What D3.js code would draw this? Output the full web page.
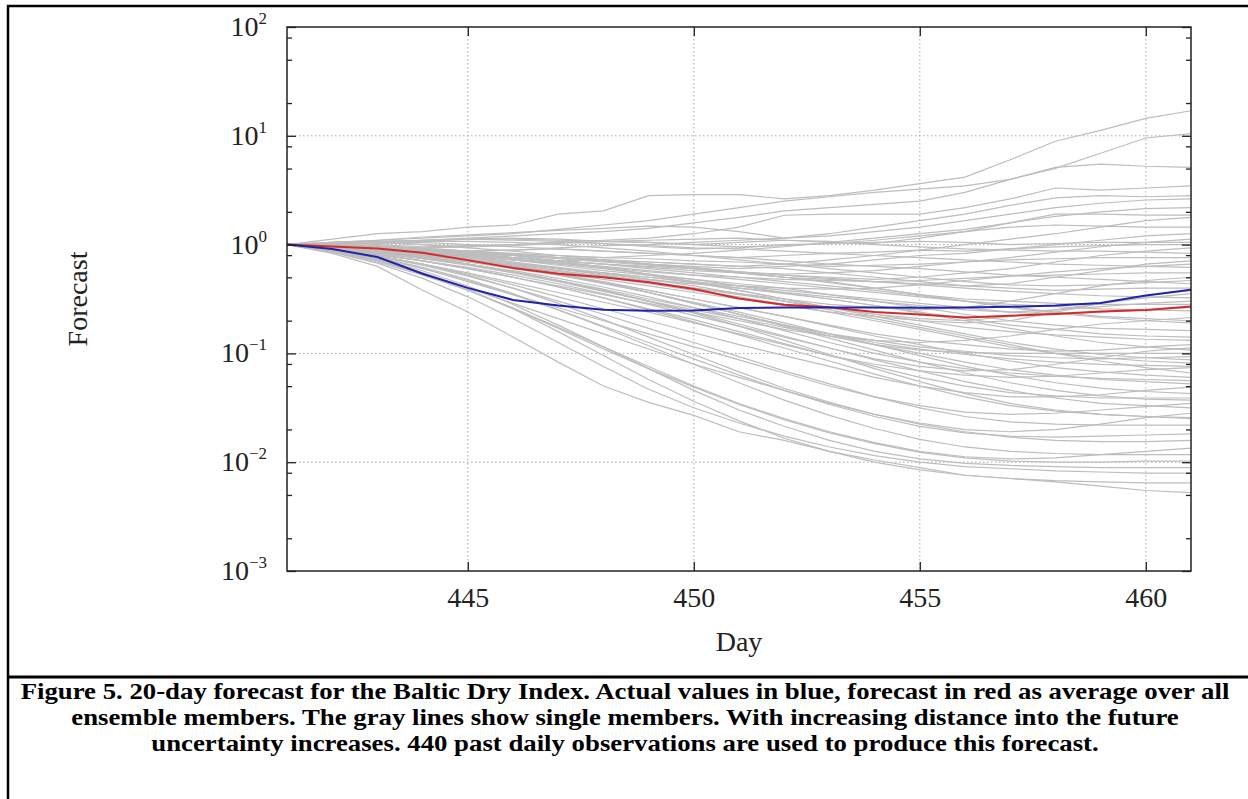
<!DOCTYPE html>
<html>
<head>
<meta charset="utf-8">
<script src="https://cdn.jsdelivr.net/npm/d3@7"></script>
<style>
  body { margin: 0; background: #fff; }
  svg text { font-family: "Liberation Serif", "Times New Roman", serif; }
</style>
</head>
<body>
<div id="chart"></div>
<script>
//////////////////////////// data ////////////////////////////

// forecast days on the x axis
var days = [441, 442, 443, 444, 445, 446, 447, 448, 449, 450,
            451, 452, 453, 454, 455, 456, 457, 458, 459, 460, 461];

// actual index (blue), normalised to day 441
var actual = [1.0, 0.91, 0.77, 0.54, 0.40, 0.31, 0.275, 0.252, 0.247, 0.248,
              0.262, 0.264, 0.264, 0.264, 0.263, 0.264, 0.268, 0.275, 0.29, 0.34, 0.385];

// ensemble average (red)
var average = [1.0, 0.96, 0.92, 0.84, 0.72, 0.61, 0.54, 0.50, 0.45, 0.39,
               0.32, 0.28, 0.265, 0.24, 0.228, 0.214, 0.222, 0.23, 0.243, 0.25, 0.27];

// single ensemble members (gray), read as decade exponents off the log axis
var memberExponents = [
  [0, .05, .10, .12, .16, .18, .28, .31, .45, .46, .46, .42, .45, .50, .56, .62, .78, .95, 1.05, 1.16, 1.23],
  [0, .02, .04, .06, .08, .10, .14, .18, .22, .28, .34, .40, .44, .48, .51, .54, .60, .70, .84, .98, 1.02],
  [0, .01, .02, .04, .06, .08, .10, .12, .15, .20, .25, .31, .34, .37, .40, .48, .60, .71, .74, .72, .71],
  [0, .02, .00, -.02, -.01, .00, .02, .04, .06, .10, .16, .27, .28, .28, .28, .34, .42, .52, .50, .52, .54],
  [0, .01, -.02, -.04, -.06, -.05, -.03, -.01, .00, .02, .04, .06, .10, .16, .22, .28, .36, .43, .45, .44, .45],
  [0, .02, .04, .07, .09, .11, .13, .15, .17, .16, .12, .06, .08, .12, .16, .22, .28, .34, .38, .41, .42],
  [0, -.01, -.03, -.05, -.07, -.09, -.10, -.12, -.10, -.08, -.05, -.02, .02, .06, .10, .14, .20, .26, .30, .33, .34],
  [0, .01, .02, .03, .05, .06, .05, .03, .04, .05, .06, .04, .02, .01, .06, .12, .20, .28, .28, .27, .27],
  [0, -.02, -.04, -.06, -.08, -.10, -.12, -.14, -.16, -.18, -.20, -.18, -.14, -.10, -.05, .00, .05, .10, .16, .22, .25],
  [0, .01, .02, .00, -.02, -.01, .01, .03, .02, .00, -.02, -.01, .01, .04, .08, .12, .16, .18, .17, .16, .16],
  [0, .00, -.02, -.05, -.08, -.12, -.15, -.14, -.18, -.20, -.22, -.20, -.18, -.14, -.10, -.08, -.04, .00, .04, .08, .10],
  [0, .02, .03, .04, .05, .04, .03, .01, -.02, -.04, -.03, .00, .01, .02, .03, .02, .00, .01, .02, .02, .02],
  [0, -.01, -.02, -.03, -.02, .00, .02, .01, -.01, -.03, -.04, -.06, -.08, -.07, -.05, -.06, -.04, -.02, -.01, .00, .00],
  [0, -.02, -.05, -.08, -.10, -.12, -.15, -.18, -.20, -.22, -.25, -.28, -.30, -.32, -.30, -.26, -.22, -.16, -.10, -.06, -.03],
  [0, .01, .03, .04, .05, .05, .04, .03, .02, .00, .02, .04, .03, .00, -.02, -.04, -.05, -.06, -.06, -.07, -.08],
  [0, -.02, -.04, -.06, -.08, -.10, -.12, -.14, -.16, -.18, -.20, -.22, -.26, -.30, -.34, -.38, -.36, -.30, -.24, -.18, -.15],
  [0, -.01, -.02, -.04, -.06, -.05, -.04, -.06, -.08, -.10, -.12, -.10, -.08, -.10, -.12, -.14, -.16, -.18, -.19, -.20, -.21],
  [0, -.03, -.07, -.12, -.16, -.20, -.25, -.30, -.35, -.40, -.45, -.50, -.55, -.58, -.60, -.58, -.52, -.45, -.38, -.33, -.30],
  [0, .00, .01, .02, .00, -.02, -.04, -.06, -.08, -.10, -.12, -.15, -.18, -.20, -.22, -.25, -.28, -.30, -.32, -.34, -.36],
  [0, -.02, -.03, -.05, -.07, -.09, -.12, -.15, -.18, -.22, -.26, -.30, -.32, -.34, -.36, -.38, -.40, -.42, -.41, -.40, -.40],
  [0, -.03, -.06, -.10, -.15, -.20, -.26, -.32, -.38, -.44, -.50, -.56, -.62, -.66, -.70, -.72, -.70, -.62, -.54, -.47, -.42],
  [0, -.01, -.03, -.05, -.08, -.10, -.13, -.16, -.19, -.22, -.25, -.28, -.31, -.34, -.37, -.40, -.43, -.45, -.47, -.48, -.49],
  [0, .01, .02, .00, -.03, -.06, -.10, -.14, -.18, -.22, -.26, -.30, -.34, -.40, -.46, -.50, -.52, -.54, -.55, -.55, -.55],
  [0, -.02, -.05, -.08, -.11, -.14, -.17, -.20, -.24, -.28, -.32, -.36, -.40, -.44, -.48, -.52, -.55, -.57, -.59, -.60, -.61],
  [0, -.04, -.09, -.15, -.22, -.30, -.38, -.46, -.54, -.62, -.70, -.78, -.84, -.88, -.90, -.88, -.84, -.78, -.73, -.70, -.67],
  [0, -.01, -.02, -.04, -.06, -.09, -.12, -.15, -.18, -.21, -.25, -.30, -.35, -.40, -.46, -.52, -.58, -.63, -.67, -.70, -.72],
  [0, -.02, -.04, -.07, -.10, -.14, -.19, -.24, -.28, -.32, -.36, -.40, -.46, -.52, -.58, -.64, -.70, -.74, -.77, -.78, -.79],
  [0, -.03, -.06, -.09, -.13, -.18, -.22, -.26, -.30, -.35, -.40, -.45, -.50, -.56, -.62, -.68, -.74, -.78, -.82, -.84, -.85],
  [0, -.02, -.05, -.09, -.14, -.20, -.27, -.34, -.42, -.50, -.58, -.66, -.74, -.82, -.88, -.92, -.96, -.98, -.97, -.94, -.92],
  [0, -.01, -.03, -.06, -.10, -.14, -.18, -.22, -.27, -.32, -.38, -.44, -.50, -.56, -.63, -.70, -.77, -.84, -.90, -.94, -.97],
  [0, -.02, -.05, -.09, -.14, -.20, -.27, -.35, -.44, -.54, -.64, -.74, -.84, -.92, -.97, -.99, -1.0, -1.0, -1.0, -1.0, -1.0],
  [0, -.03, -.07, -.12, -.18, -.25, -.33, -.41, -.50, -.58, -.66, -.74, -.82, -.88, -.94, -.98, -1.02, -1.04, -1.05, -1.04, -1.03],
  [0, -.02, -.04, -.06, -.09, -.12, -.16, -.21, -.27, -.34, -.42, -.50, -.58, -.66, -.74, -.82, -.90, -.96, -1.01, -1.04, -1.06],
  [0, -.03, -.06, -.10, -.14, -.19, -.24, -.30, -.36, -.42, -.48, -.55, -.62, -.70, -.78, -.86, -.94, -1.00, -1.04, -1.07, -1.09],
  [0, -.04, -.10, -.18, -.26, -.35, -.44, -.53, -.62, -.72, -.82, -.92, -1.02, -1.10, -1.16, -1.20, -1.22, -1.21, -1.18, -1.15, -1.13],
  [0, -.02, -.05, -.08, -.12, -.16, -.21, -.26, -.32, -.38, -.45, -.52, -.60, -.68, -.76, -.84, -.92, -1.00, -1.07, -1.13, -1.18],
  [0, -.03, -.07, -.11, -.16, -.22, -.28, -.35, -.42, -.50, -.58, -.66, -.75, -.84, -.92, -1.00, -1.07, -1.13, -1.17, -1.20, -1.22],
  [0, -.04, -.08, -.13, -.19, -.26, -.34, -.43, -.52, -.60, -.68, -.76, -.84, -.92, -1.00, -1.08, -1.15, -1.20, -1.24, -1.26, -1.28],
  [0, -.05, -.11, -.18, -.27, -.37, -.48, -.59, -.70, -.81, -.92, -1.02, -1.12, -1.22, -1.30, -1.36, -1.40, -1.40, -1.38, -1.34, -1.31],
  [0, -.03, -.06, -.10, -.15, -.21, -.28, -.36, -.44, -.53, -.62, -.72, -.82, -.92, -1.02, -1.12, -1.20, -1.27, -1.32, -1.35, -1.37],
  [0, -.04, -.09, -.15, -.22, -.30, -.39, -.49, -.59, -.69, -.80, -.91, -1.02, -1.12, -1.22, -1.30, -1.36, -1.39, -1.41, -1.41, -1.41],
  [0, -.02, -.05, -.09, -.14, -.20, -.27, -.35, -.44, -.54, -.64, -.75, -.86, -.97, -1.08, -1.18, -1.27, -1.34, -1.39, -1.42, -1.43],
  [0, -.05, -.12, -.22, -.34, -.46, -.58, -.70, -.82, -.94, -1.06, -1.18, -1.30, -1.40, -1.48, -1.54, -1.56, -1.55, -1.52, -1.49, -1.46],
  [0, -.03, -.07, -.12, -.18, -.25, -.33, -.42, -.52, -.62, -.73, -.84, -.95, -1.06, -1.16, -1.26, -1.34, -1.41, -1.46, -1.48, -1.50],
  [0, -.06, -.14, -.26, -.40, -.54, -.68, -.82, -.96, -1.10, -1.22, -1.34, -1.46, -1.56, -1.64, -1.70, -1.72, -1.70, -1.65, -1.59, -1.55],
  [0, -.04, -.09, -.15, -.22, -.30, -.39, -.49, -.60, -.71, -.83, -.95, -1.07, -1.19, -1.30, -1.40, -1.48, -1.53, -1.56, -1.58, -1.59],
  [0, -.05, -.11, -.19, -.29, -.40, -.52, -.64, -.77, -.90, -1.03, -1.16, -1.28, -1.40, -1.50, -1.58, -1.63, -1.65, -1.66, -1.66, -1.66],
  [0, -.06, -.13, -.22, -.33, -.46, -.60, -.75, -.90, -1.05, -1.20, -1.34, -1.47, -1.58, -1.67, -1.73, -1.76, -1.77, -1.76, -1.75, -1.74],
  [0, -.04, -.10, -.18, -.28, -.40, -.54, -.69, -.85, -1.01, -1.17, -1.32, -1.45, -1.56, -1.65, -1.72, -1.77, -1.80, -1.81, -1.81, -1.80],
  [0, -.07, -.16, -.28, -.42, -.58, -.76, -.94, -1.12, -1.30, -1.46, -1.60, -1.72, -1.82, -1.90, -1.95, -1.97, -1.96, -1.93, -1.90, -1.87],
  [0, -.05, -.12, -.21, -.32, -.45, -.60, -.76, -.93, -1.10, -1.27, -1.43, -1.57, -1.69, -1.79, -1.86, -1.90, -1.92, -1.93, -1.93, -1.93],
  [0, -.06, -.15, -.27, -.42, -.59, -.77, -.96, -1.14, -1.31, -1.47, -1.61, -1.73, -1.83, -1.91, -1.96, -1.99, -2.00, -2.00, -1.99, -1.99],
  [0, -.05, -.13, -.24, -.38, -.55, -.74, -.94, -1.14, -1.34, -1.52, -1.67, -1.80, -1.90, -1.97, -2.01, -2.03, -2.04, -2.05, -2.05, -2.05],
  [0, -.07, -.17, -.31, -.48, -.68, -.90, -1.12, -1.33, -1.50, -1.64, -1.76, -1.86, -1.94, -2.00, -2.04, -2.06, -2.08, -2.09, -2.10, -2.10],
  [0, -.06, -.14, -.26, -.41, -.59, -.80, -1.02, -1.24, -1.44, -1.62, -1.78, -1.90, -2.00, -2.07, -2.12, -2.15, -2.17, -2.18, -2.19, -2.19],
  [0, -.08, -.20, -.42, -.62, -.85, -1.08, -1.30, -1.45, -1.57, -1.72, -1.80, -1.90, -1.98, -2.05, -2.12, -2.15, -2.18, -2.22, -2.26, -2.28],
  [0, -.02, -.03, -.05, -.06, -.08, -.10, -.12, -.13, -.15, -.16, -.18, -.20, -.19, -.18, -.16, -.14, -.13, -.12, -.12, -.12],
  [0, -.01, -.03, -.06, -.09, -.13, -.17, -.21, -.25, -.28, -.30, -.32, -.33, -.34, -.33, -.31, -.29, -.28, -.27, -.26, -.26],
  [0, -.03, -.06, -.10, -.14, -.18, -.22, -.26, -.30, -.34, -.38, -.42, -.46, -.50, -.54, -.58, -.62, -.64, -.62, -.60, -.58],
  [0, -.02, -.04, -.07, -.11, -.16, -.22, -.28, -.34, -.40, -.46, -.52, -.58, -.64, -.70, -.76, -.80, -.83, -.85, -.87, -.88],
  [0, .00, -.01, -.03, -.06, -.10, -.15, -.21, -.28, -.35, -.42, -.50, -.58, -.64, -.68, -.70, -.66, -.60, -.54, -.49, -.45],
  [0, -.04, -.08, -.13, -.18, -.24, -.31, -.39, -.48, -.58, -.68, -.79, -.90, -1.00, -1.08, -1.14, -1.18, -1.21, -1.23, -1.24, -1.25],
  [0, -.03, -.06, -.10, -.14, -.19, -.24, -.29, -.33, -.36, -.38, -.40, -.41, -.40, -.37, -.33, -.29, -.25, -.22, -.20, -.18],
  [0, -.01, -.03, -.06, -.09, -.12, -.15, -.18, -.22, -.26, -.30, -.34, -.38, -.42, -.47, -.52, -.57, -.62, -.66, -.68, -.70],
  [0, -.04, -.09, -.15, -.21, -.28, -.36, -.45, -.55, -.65, -.75, -.85, -.95, -1.05, -1.12, -1.16, -1.15, -1.10, -1.04, -.98, -.95],
  [0, -.02, -.05, -.08, -.12, -.17, -.22, -.27, -.32, -.36, -.40, -.44, -.48, -.52, -.56, -.60, -.62, -.60, -.57, -.54, -.52],
  [0, -.01, -.03, -.06, -.09, -.12, -.15, -.18, -.21, -.24, -.26, -.27, -.26, -.24, -.20, -.16, -.12, -.07, -.02, .02, .05],
  [0, -.03, -.07, -.12, -.18, -.25, -.33, -.42, -.52, -.63, -.75, -.88, -1.01, -1.14, -1.26, -1.37, -1.46, -1.52, -1.56, -1.58, -1.60],
  [0, .01, .02, .03, .03, .02, .00, -.03, -.06, -.10, -.14, -.18, -.22, -.26, -.30, -.34, -.37, -.38, -.37, -.35, -.33],
  [0, -.02, -.05, -.09, -.14, -.20, -.27, -.35, -.44, -.54, -.64, -.74, -.82, -.90, -.96, -1.01, -1.05, -1.08, -1.10, -1.11, -1.12]
];

var dayTicks = [445, 450, 455, 460];
var decades = [-3, -2, -1, 0, 1, 2];
var minorMultipliers = [2, 5, 8];

var captionLines = [
  "Figure 5. 20-day forecast for the Baltic Dry Index. Actual values in blue, forecast in red as average over all",
  "ensemble members. The gray lines show single members. With increasing distance into the future",
  "uncertainty increases. 440 past daily observations are used to produce this forecast."
];

//////////////////////////// layout ////////////////////////////

var W = 1248, H = 799;
var plot = { left: 287, top: 27, right: 1191, bottom: 571 };

var svg = d3.select("#chart").append("svg")
  .attr("width", W)
  .attr("height", H);

// outer figure box and caption divider
svg.append("rect")
  .attr("x", 8).attr("y", 6)
  .attr("width", W + 10).attr("height", H + 10)
  .attr("fill", "none")
  .attr("stroke", "#000")
  .attr("stroke-width", 2.5);

svg.append("line")
  .attr("x1", 8).attr("x2", W)
  .attr("y1", 677).attr("y2", 677)
  .attr("stroke", "#000")
  .attr("stroke-width", 3);

//////////////////////////// scales ////////////////////////////

var x = d3.scaleLinear().domain([441, 461]).range([plot.left, plot.right]);
var y = d3.scaleLog().domain([1e-3, 1e2]).range([plot.bottom, plot.top]);

var majorValues = decades.map(function (e) { return Math.pow(10, e); });
var minorValues = [];
decades.slice(0, -1).forEach(function (e) {
  minorMultipliers.forEach(function (m) { minorValues.push(m * Math.pow(10, e)); });
});

//////////////////////////// grid ////////////////////////////

var grid = svg.append("g")
  .attr("stroke", "#a8a8a8")
  .attr("stroke-width", 1)
  .attr("stroke-dasharray", "1.5,2.5");

grid.selectAll(".gx").data(dayTicks).enter().append("line")
  .attr("x1", function (d) { return x(d); })
  .attr("x2", function (d) { return x(d); })
  .attr("y1", plot.top).attr("y2", plot.bottom);

grid.selectAll(".gy").data(majorValues.slice(1, -1)).enter().append("line")
  .attr("x1", plot.left).attr("x2", plot.right)
  .attr("y1", function (d) { return y(d); })
  .attr("y2", function (d) { return y(d); });

//////////////////////////// lines ////////////////////////////

var line = d3.line()
  .x(function (d, i) { return x(days[i]); })
  .y(function (d) { return y(d); });

var members = memberExponents.map(function (row) {
  return row.map(function (e) { return Math.pow(10, e); });
});

svg.append("g").selectAll("path")
  .data(members).enter().append("path")
  .attr("d", line)
  .attr("fill", "none")
  .attr("stroke", "#bdbdbd")
  .attr("stroke-width", 1.2);

svg.append("path")
  .attr("d", line(average))
  .attr("fill", "none")
  .attr("stroke", "#d42a2a")
  .attr("stroke-width", 2);

svg.append("path")
  .attr("d", line(actual))
  .attr("fill", "none")
  .attr("stroke", "#2222aa")
  .attr("stroke-width", 2);

//////////////////////////// axes ////////////////////////////

function styleAxis(g) {
  g.select(".domain").remove();
  g.selectAll(".tick line").attr("stroke", "#222").attr("stroke-width", 1.3);
}

// left / right, major and minor, ticks pointing inwards
svg.append("g").attr("transform", "translate(" + plot.left + ",0)")
  .call(d3.axisLeft(y).tickValues(majorValues).tickSize(-9).tickFormat(""))
  .call(styleAxis);
svg.append("g").attr("transform", "translate(" + plot.left + ",0)")
  .call(d3.axisLeft(y).tickValues(minorValues).tickSize(-5).tickFormat(""))
  .call(styleAxis);
svg.append("g").attr("transform", "translate(" + plot.right + ",0)")
  .call(d3.axisRight(y).tickValues(majorValues).tickSize(-9).tickFormat(""))
  .call(styleAxis);
svg.append("g").attr("transform", "translate(" + plot.right + ",0)")
  .call(d3.axisRight(y).tickValues(minorValues).tickSize(-5).tickFormat(""))
  .call(styleAxis);

// bottom / top
svg.append("g").attr("transform", "translate(0," + plot.bottom + ")")
  .call(d3.axisBottom(x).tickValues(dayTicks).tickSize(-9).tickPadding(16))
  .call(styleAxis)
  .selectAll("text")
  .style("font-family", "Liberation Serif, serif")
  .style("font-size", "28px")
  .attr("fill", "#222");
svg.append("g").attr("transform", "translate(0," + plot.top + ")")
  .call(d3.axisTop(x).tickValues(dayTicks).tickSize(-9).tickFormat(""))
  .call(styleAxis);

// y tick labels 10^e
var yLabels = svg.append("g").selectAll("text")
  .data(decades).enter().append("text")
  .attr("x", 267)
  .attr("y", function (e) { return y(Math.pow(10, e)) + 9; })
  .attr("text-anchor", "end")
  .attr("fill", "#222")
  .style("font-size", "28px");
yLabels.append("tspan").text("10");
yLabels.append("tspan")
  .attr("dy", -12)
  .style("font-size", "17px")
  .text(function (e) { return e < 0 ? "\u2212" + (-e) : String(e); });

// frame
svg.append("rect")
  .attr("x", plot.left).attr("y", plot.top)
  .attr("width", plot.right - plot.left)
  .attr("height", plot.bottom - plot.top)
  .attr("fill", "none")
  .attr("stroke", "#222")
  .attr("stroke-width", 1.5);

// axis titles
svg.append("text")
  .attr("transform", "translate(87," + ((plot.top + plot.bottom) / 2) + ") rotate(-90)")
  .attr("text-anchor", "middle")
  .attr("fill", "#222")
  .style("font-size", "28px")
  .text("Forecast");

svg.append("text")
  .attr("x", (plot.left + plot.right) / 2)
  .attr("y", 651)
  .attr("text-anchor", "middle")
  .attr("fill", "#222")
  .style("font-size", "28px")
  .text("Day");

//////////////////////////// caption ////////////////////////////

// caption face in the source is wider than Times, so stretch it horizontally
var caption = svg.append("g")
  .attr("transform", "translate(625,0) scale(1.19,1)");

caption.selectAll("text")
  .data(captionLines).enter().append("text")
  .attr("x", 0)
  .attr("y", function (d, i) { return 699 + i * 26; })
  .attr("text-anchor", "middle")
  .attr("fill", "#000")
  .style("font-weight", "bold")
  .style("font-size", "22.5px")
  .text(function (d) { return d; });
</script>
</body>
</html>
